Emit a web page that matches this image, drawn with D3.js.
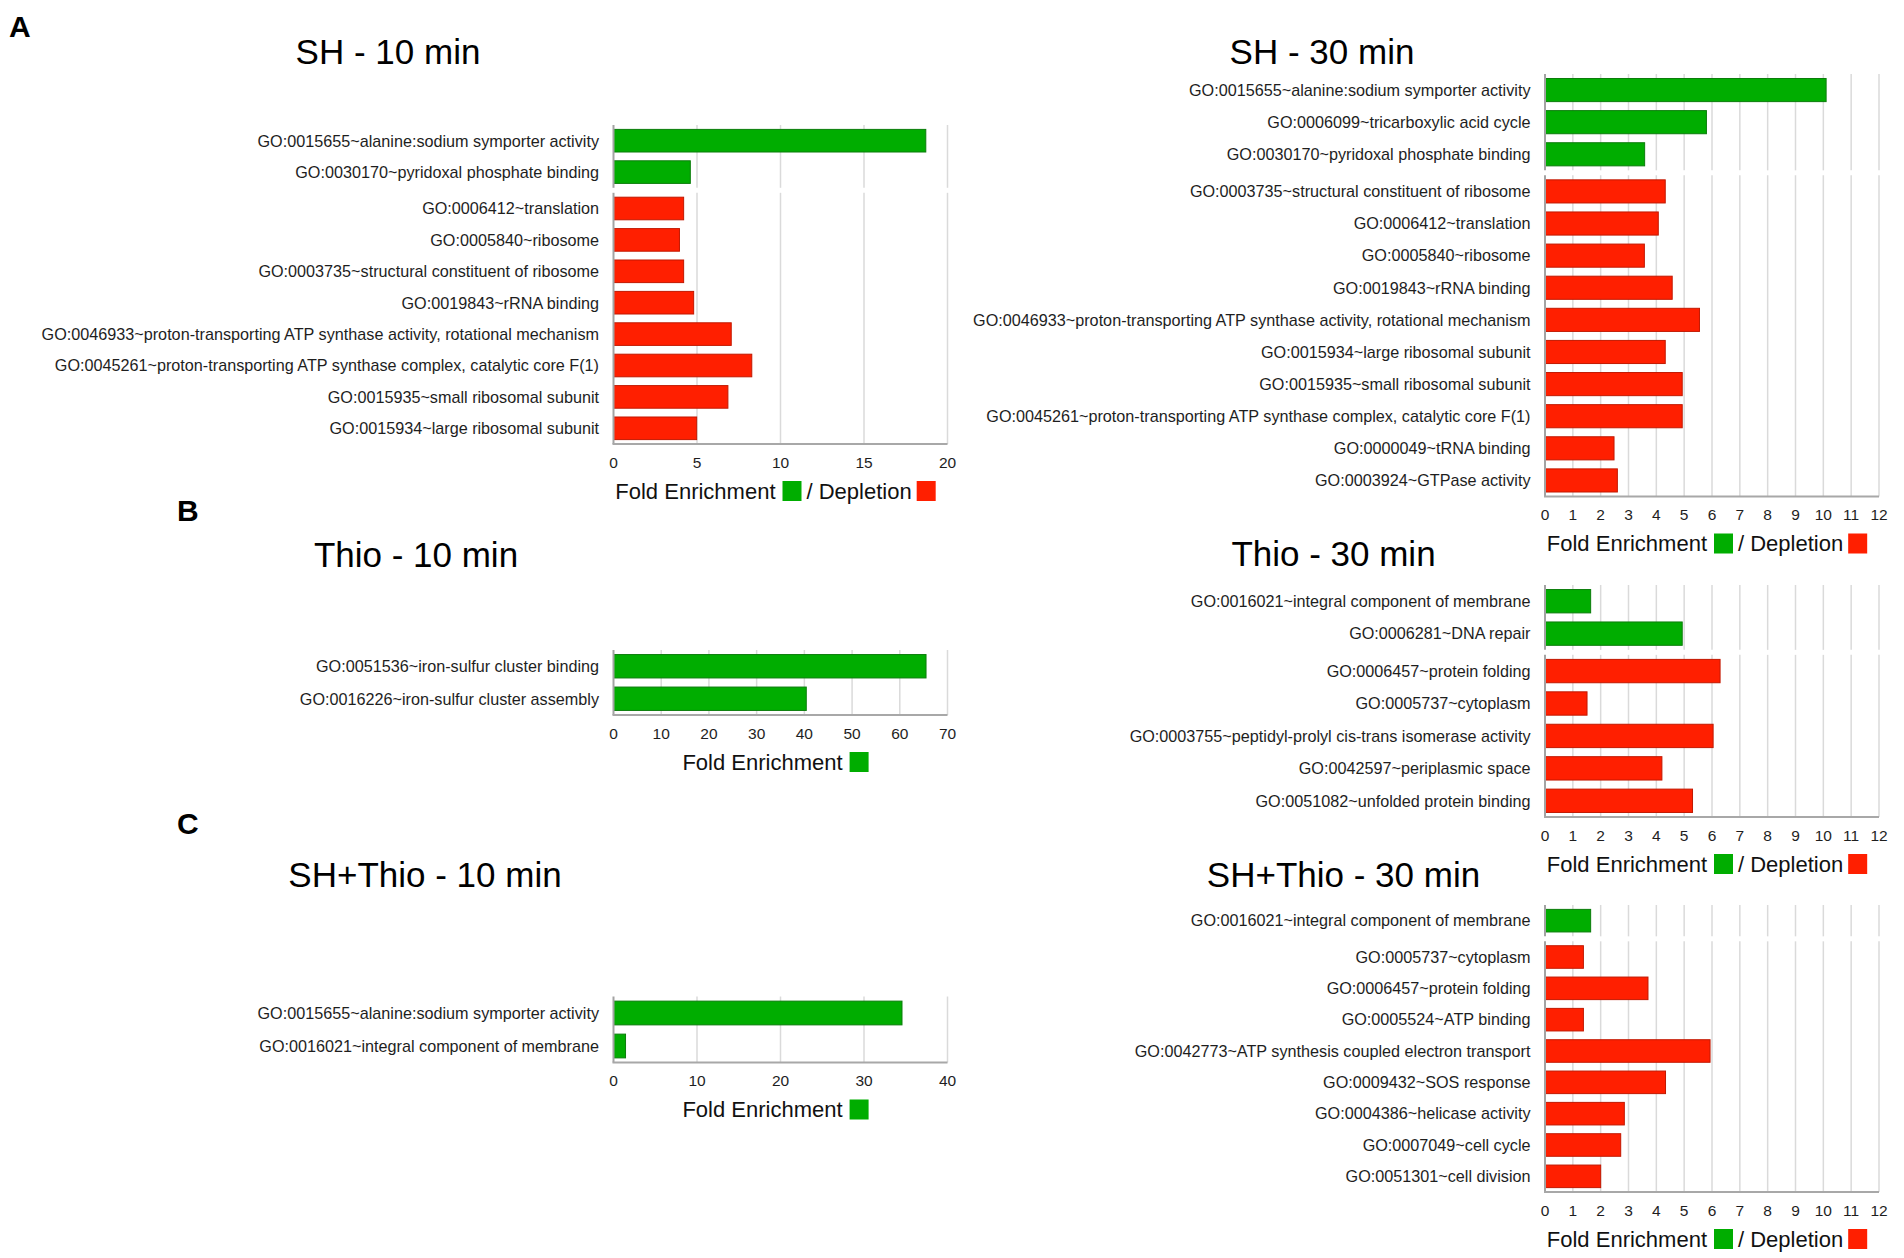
<!DOCTYPE html>
<html>
<head>
<meta charset="utf-8">
<title>GO term fold enrichment / depletion</title>
<script src="https://cdn.jsdelivr.net/npm/d3@7"></script>
<style>
    body { margin: 0; background: #fff; }
    svg { display: block; font-family: 'Liberation Sans', Arial, Helvetica, sans-serif; }
</style>
</head>
<body>
<svg id="chart" width="1904" height="1258"></svg>
<script>
// ---- data ----
// kind: 'E' = fold enrichment (green), 'D' = fold depletion (red)

var sh10Terms = [
    'GO:0015655~alanine:sodium symporter activity',
    'GO:0030170~pyridoxal phosphate binding',
    'GO:0006412~translation',
    'GO:0005840~ribosome',
    'GO:0003735~structural constituent of ribosome',
    'GO:0019843~rRNA binding',
    'GO:0046933~proton-transporting ATP synthase activity, rotational mechanism',
    'GO:0045261~proton-transporting ATP synthase complex, catalytic core F(1)',
    'GO:0015935~small ribosomal subunit',
    'GO:0015934~large ribosomal subunit'
];
var sh10Values = [18.7, 4.6, 4.2, 3.95, 4.2, 4.8, 7.05, 8.28, 6.85, 4.98];
var sh10Kinds = ['E', 'E', 'D', 'D', 'D', 'D', 'D', 'D', 'D', 'D'];
var sh10Ticks = [0, 5, 10, 15, 20];

var sh30Terms = [
    'GO:0015655~alanine:sodium symporter activity',
    'GO:0006099~tricarboxylic acid cycle',
    'GO:0030170~pyridoxal phosphate binding',
    'GO:0003735~structural constituent of ribosome',
    'GO:0006412~translation',
    'GO:0005840~ribosome',
    'GO:0019843~rRNA binding',
    'GO:0046933~proton-transporting ATP synthase activity, rotational mechanism',
    'GO:0015934~large ribosomal subunit',
    'GO:0015935~small ribosomal subunit',
    'GO:0045261~proton-transporting ATP synthase complex, catalytic core F(1)',
    'GO:0000049~tRNA binding',
    'GO:0003924~GTPase activity'
];
var sh30Values = [10.1, 5.8, 3.58, 4.32, 4.07, 3.57, 4.57, 5.55, 4.32, 4.93, 4.93, 2.48, 2.6];
var sh30Kinds = ['E', 'E', 'E', 'D', 'D', 'D', 'D', 'D', 'D', 'D', 'D', 'D', 'D'];

var thio10Terms = [
    'GO:0051536~iron-sulfur cluster binding',
    'GO:0016226~iron-sulfur cluster assembly'
];
var thio10Values = [65.5, 40.4];
var thio10Kinds = ['E', 'E'];
var thio10Ticks = [0, 10, 20, 30, 40, 50, 60, 70];

var thio30Terms = [
    'GO:0016021~integral component of membrane',
    'GO:0006281~DNA repair',
    'GO:0006457~protein folding',
    'GO:0005737~cytoplasm',
    'GO:0003755~peptidyl-prolyl cis-trans isomerase activity',
    'GO:0042597~periplasmic space',
    'GO:0051082~unfolded protein binding'
];
var thio30Values = [1.64, 4.93, 6.29, 1.51, 6.04, 4.2, 5.3];
var thio30Kinds = ['E', 'E', 'D', 'D', 'D', 'D', 'D'];

var both10Terms = [
    'GO:0015655~alanine:sodium symporter activity',
    'GO:0016021~integral component of membrane'
];
var both10Values = [34.55, 1.44];
var both10Kinds = ['E', 'E'];
var both10Ticks = [0, 10, 20, 30, 40];

var both30Terms = [
    'GO:0016021~integral component of membrane',
    'GO:0005737~cytoplasm',
    'GO:0006457~protein folding',
    'GO:0005524~ATP binding',
    'GO:0042773~ATP synthesis coupled electron transport',
    'GO:0009432~SOS response',
    'GO:0004386~helicase activity',
    'GO:0007049~cell cycle',
    'GO:0051301~cell division'
];
var both30Values = [1.64, 1.38, 3.7, 1.38, 5.93, 4.33, 2.85, 2.72, 2.0];
var both30Kinds = ['E', 'D', 'D', 'D', 'D', 'D', 'D', 'D', 'D'];

var minute30Ticks = [0, 1, 2, 3, 4, 5, 6, 7, 8, 9, 10, 11, 12];

// ---- layout ----
var FILL = { E: '#00ad00', D: '#ff1f00' };
var EDGE = { E: '#0b7d0b', D: '#c21800' };
var LEFT = [613.5, 947.5];
var RIGHT = [1545, 1879];

var panels = [
    { title: 'SH - 10 min', terms: sh10Terms, values: sh10Values, kinds: sh10Kinds, ticks: sh10Ticks,
      xr: LEFT, top: 125, bottom: 444, titleX: 388, titleY: 63.5 },
    { title: 'SH - 30 min', terms: sh30Terms, values: sh30Values, kinds: sh30Kinds, ticks: minute30Ticks,
      xr: RIGHT, top: 74, bottom: 496.5, titleX: 1322, titleY: 63.5 },
    { title: 'Thio - 10 min', terms: thio10Terms, values: thio10Values, kinds: thio10Kinds, ticks: thio10Ticks,
      xr: LEFT, top: 650, bottom: 715, titleX: 416, titleY: 566.5 },
    { title: 'Thio - 30 min', terms: thio30Terms, values: thio30Values, kinds: thio30Kinds, ticks: minute30Ticks,
      xr: RIGHT, top: 585, bottom: 817, titleX: 1333.5, titleY: 565.5 },
    { title: 'SH+Thio - 10 min', terms: both10Terms, values: both10Values, kinds: both10Kinds, ticks: both10Ticks,
      xr: LEFT, top: 996.5, bottom: 1062.5, titleX: 425, titleY: 887 },
    { title: 'SH+Thio - 30 min', terms: both30Terms, values: both30Values, kinds: both30Kinds, ticks: minute30Ticks,
      xr: RIGHT, top: 905, bottom: 1192, titleX: 1343.5, titleY: 887 }
];

var letters = [
    { text: 'A', x: 9, y: 36.5 },
    { text: 'B', x: 177, y: 521 },
    { text: 'C', x: 177, y: 834 }
];

var svg = d3.select('#chart');

svg.selectAll('.panel-letter')
    .data(letters)
    .enter()
    .append('text')
    .attr('class', 'panel-letter')
    .attr('x', function (d) { return d.x; })
    .attr('y', function (d) { return d.y; })
    .style('font-size', '30px')
    .style('font-weight', 'bold')
    .attr('fill', '#000')
    .text(function (d) { return d.text; });

panels.forEach(function (p) {
    drawPanel(svg, p);
});

function drawPanel(svg, p) {
    var g = svg.append('g').attr('class', 'panel');
    var n = p.terms.length;
    var max = p.ticks[p.ticks.length - 1];

    var x = d3.scaleLinear()
        .domain([0, max])
        .range(p.xr);

    // consecutive runs of the same kind are drawn as stacked blocks,
    // the original breaks its grid lines between them
    var groups = [];
    p.kinds.forEach(function (k, i) {
        var last = groups[groups.length - 1];
        if (!last || last.kind !== k) {
            last = { kind: k, idx: [] };
            groups.push(last);
        }
        last.idx.push(i);
    });

    var gap = 5;
    var step = (p.bottom - p.top - gap * (groups.length - 1)) / n;
    var yStart = p.top;

    groups.forEach(function (grp) {
        var y0 = yStart;
        var y1 = yStart + grp.idx.length * step;
        if (grp === groups[groups.length - 1]) {
            y1 = p.bottom;
        }
        var y = d3.scaleBand()
            .domain(grp.idx)
            .range([y0, y1])
            .paddingInner(0.28)
            .paddingOuter(0.14);

        var block = g.append('g');

        // grid
        block.selectAll('.grid')
            .data(p.ticks.slice(1))
            .enter()
            .append('line')
            .attr('class', 'grid')
            .attr('x1', function (d) { return x(d); })
            .attr('x2', function (d) { return x(d); })
            .attr('y1', y0)
            .attr('y2', y1)
            .attr('stroke', '#dadada')
            .attr('stroke-width', 1.5);

        // bars
        block.selectAll('.bar')
            .data(grp.idx)
            .enter()
            .append('rect')
            .attr('class', 'bar')
            .attr('x', x(0))
            .attr('y', function (i) { return y(i); })
            .attr('width', function (i) { return x(p.values[i]) - x(0); })
            .attr('height', y.bandwidth())
            .attr('fill', function (i) { return FILL[p.kinds[i]]; })
            .attr('stroke', function (i) { return EDGE[p.kinds[i]]; })
            .attr('stroke-width', 1);

        // term labels
        block.selectAll('.term')
            .data(grp.idx)
            .enter()
            .append('text')
            .attr('class', 'term')
            .attr('x', x(0) - 14.5)
            .attr('y', function (i) { return y(i) + y.bandwidth() / 2; })
            .attr('dy', '0.36em')
            .attr('text-anchor', 'end')
            .attr('fill', '#1e1e1e')
            .style('font-size', '16.2px')
            .text(function (i) { return p.terms[i]; });

        // vertical axis piece
        block.append('line')
            .attr('x1', x(0))
            .attr('x2', x(0))
            .attr('y1', y0)
            .attr('y2', y1)
            .attr('stroke', '#a3a3a3')
            .attr('stroke-width', 2);

        yStart = y1 + gap;
    });

    // x axis
    g.append('line')
        .attr('x1', x(0) - 1)
        .attr('x2', x(max))
        .attr('y1', p.bottom)
        .attr('y2', p.bottom)
        .attr('stroke', '#a8a8a8')
        .attr('stroke-width', 2);

    g.selectAll('.tick-label')
        .data(p.ticks)
        .enter()
        .append('text')
        .attr('class', 'tick-label')
        .attr('x', function (d) { return x(d); })
        .attr('y', p.bottom + 18)
        .attr('dy', '0.36em')
        .attr('text-anchor', 'middle')
        .attr('fill', '#1e1e1e')
        .style('font-size', '15.5px')
        .text(function (d) { return d; });

    // title
    g.append('text')
        .attr('x', p.titleX)
        .attr('y', p.titleY)
        .attr('text-anchor', 'middle')
        .attr('fill', '#000')
        .style('font-size', '35px')
        .text(p.title);

    // legend, centred under the plot
    var hasDepletion = p.kinds.indexOf('D') >= 0;
    var items = [{ text: 'Fold Enrichment', kind: 'E' }];
    if (hasDepletion) {
        items.push({ text: '/ Depletion', kind: 'D' });
    }
    var lg = g.append('g');
    var cx = 0;
    items.forEach(function (it, k) {
        if (k > 0) {
            cx += 5;
        }
        var t = lg.append('text')
            .attr('x', cx)
            .attr('y', 0)
            .attr('dy', '0.36em')
            .attr('fill', '#111')
            .style('font-size', '22px')
            .text(it.text);
        cx += t.node().getComputedTextLength() + (k === 0 ? 7 : 5);
        lg.append('rect')
            .attr('x', cx)
            .attr('y', -10)
            .attr('width', 19)
            .attr('height', 20)
            .attr('fill', FILL[it.kind]);
        cx += 19;
    });
    var mid = (p.xr[0] + p.xr[1]) / 2 - 5;
    lg.attr('transform', 'translate(' + (mid - cx / 2) + ',' + (p.bottom + 47) + ')');
}
</script>
</body>
</html>
